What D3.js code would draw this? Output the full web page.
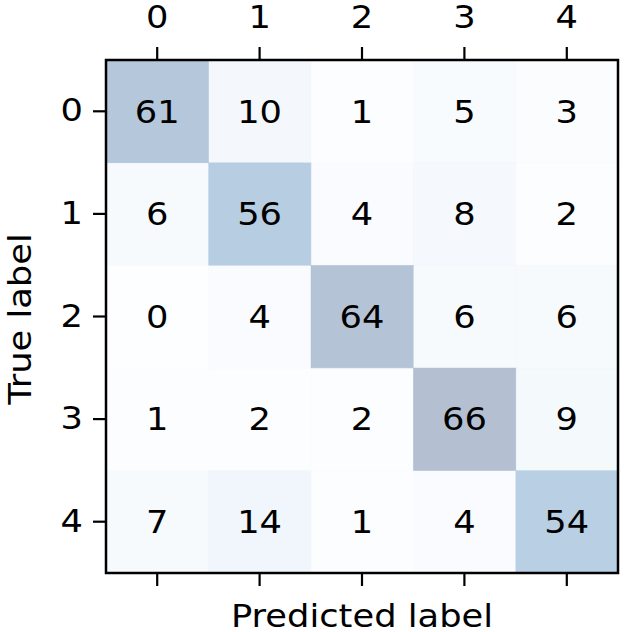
<!DOCTYPE html>
<html>
<head>
<meta charset="utf-8">
<script src="https://cdn.jsdelivr.net/npm/d3@7"></script>
<style>
  body { margin: 0; background: #fff; }
  svg { display: block; font-family: "DejaVu Sans", sans-serif; }
</style>
</head>
<body>
<svg id="chart" width="624" height="632"></svg>
<script>
// class labels and confusion counts (rows = true label, cols = predicted)
const classes = ['0', '1', '2', '3', '4'];
const matrix = [
  [61, 10, 1, 5, 3],
  [6, 56, 4, 8, 2],
  [0, 4, 64, 6, 6],
  [1, 2, 2, 66, 9],
  [7, 14, 1, 4, 54]
];

const W = 624, H = 632;
const margin = { top: 60, right: 6, bottom: 59, left: 106 };
const innerW = W - margin.left - margin.right;
const innerH = H - margin.top - margin.bottom;
const fontSize = 31.5;
const sx = 1.12; // glyphs in the source are a bit wider than DejaVu

const svg = d3.select('#chart');
const g = svg.append('g').attr('transform', `translate(${margin.left},${margin.top})`);

const x = d3.scaleBand().domain(classes).range([0, innerW]);
const y = d3.scaleBand().domain(classes).range([0, innerH]);

const maxVal = d3.max(matrix.flat());
const color = d3.scaleSequential(d3.interpolateBlues).domain([0, maxVal]);

// flatten to cells
const cells = [];
matrix.forEach((row, i) => row.forEach((v, j) => cells.push({ r: classes[i], c: classes[j], v })));

g.selectAll('rect.cell')
  .data(cells)
  .enter().append('rect')
  .attr('class', 'cell')
  .attr('x', d => x(d.c))
  .attr('y', d => y(d.r))
  .attr('width', x.bandwidth() + 0.5)
  .attr('height', y.bandwidth() + 0.5)
  .attr('fill', d => color(d.v))
  .attr('fill-opacity', 0.3);

g.selectAll('text.val')
  .data(cells)
  .enter().append('text')
  .attr('class', 'val')
  .attr('transform', d => `translate(${x(d.c) + x.bandwidth() / 2},${y(d.r) + y.bandwidth() / 2}) scale(${sx},1)`)
  .attr('text-anchor', 'middle')
  .attr('dy', '0.36em')
  .attr('font-size', fontSize)
  .attr('fill', '#000')
  .text(d => d.v);

// axes
const styleAxis = sel => {
  sel.select('.domain').remove();
  sel.selectAll('.tick line').attr('stroke', '#000').attr('stroke-width', 2.2);
  sel.selectAll('.tick text')
    .attr('font-size', fontSize)
    .attr('fill', '#000')
    .attr('font-family', '"DejaVu Sans", sans-serif')
    .attr('transform', `scale(${sx},1)`);
};

g.append('g')
  .call(d3.axisTop(x).tickSize(13).tickPadding(19))
  .call(styleAxis);

g.append('g')
  .attr('transform', `translate(0,${innerH})`)
  .call(d3.axisBottom(x).tickSize(13).tickFormat(''))
  .call(styleAxis);

g.append('g')
  .call(d3.axisLeft(y).tickSize(13).tickPadding(10))
  .call(styleAxis)
  .selectAll('.tick text')
  .attr('x', -23 / sx);

// frame
g.append('rect')
  .attr('width', innerW)
  .attr('height', innerH)
  .attr('fill', 'none')
  .attr('stroke', '#000')
  .attr('stroke-width', 2.5);

// axis titles
svg.append('text')
  .attr('transform', `translate(${margin.left + innerW / 2},627) scale(${sx},1)`)
  .attr('text-anchor', 'middle')
  .attr('font-size', fontSize)
  .text('Predicted label');

svg.append('text')
  .attr('transform', `translate(31,319) rotate(-90) scale(${sx},1)`)
  .attr('text-anchor', 'middle')
  .attr('font-size', fontSize)
  .text('True label');
</script>
</body>
</html>
